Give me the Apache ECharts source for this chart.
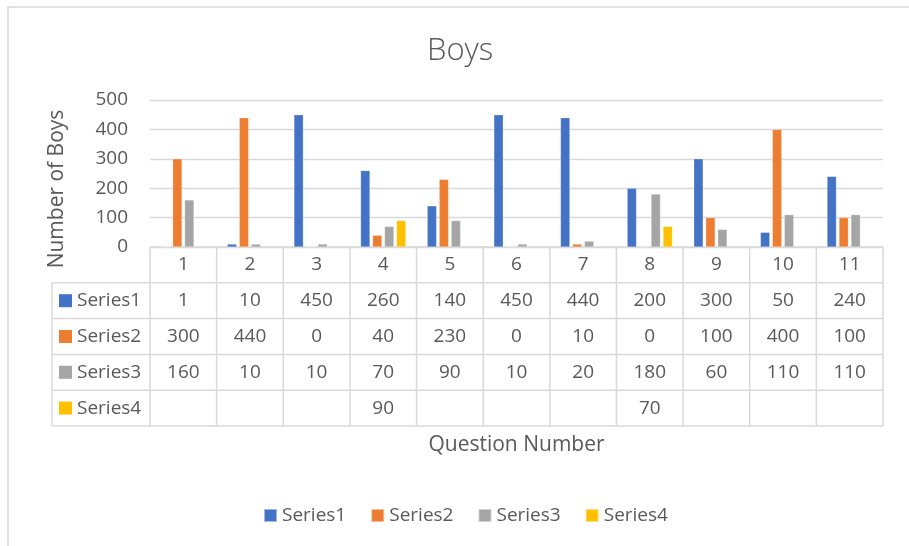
<!DOCTYPE html>
<html><head><meta charset="utf-8">
<script src="https://cdn.jsdelivr.net/npm/echarts@6/dist/echarts.min.js"></script>
<style>html,body{margin:0;padding:0;background:#fff}#c{width:909px;height:546px}</style>
</head><body><div id="c"></div>
<script>
const categories = ['1','2','3','4','5','6','7','8','9','10','11'];
const seriesNames = ['Series1','Series2','Series3','Series4'];
const series1 = [1,10,450,260,140,450,440,200,300,50,240];
const series2 = [300,440,0,40,230,0,10,0,100,400,100];
const series3 = [160,10,10,70,90,10,20,180,60,110,110];
const series4 = [null,null,null,90,null,null,null,70,null,null,null];
const yTicks = [0,100,200,300,400,500];
const colors = ['#4472C4','#ED7D31','#A5A5A5','#FFC000'];
const titleText = 'Boys';
const yTitle = 'Number of Boys';
const xTitle = 'Question Number';

const FONT = "'Open Sans', sans-serif";
const TXT = '#595959';
const LINE = '#D9D9D9';
const FS = 19;
const GRID = {left:150, right:26, top:100, bottom:299};
const ROW = 35.8;
const allSeries = [series1, series2, series3, series4];

const chart = echarts.init(document.getElementById('c'), null, {renderer:'canvas'});

const xAxes = [{
  type:'category', data:categories, gridIndex:0, position:'bottom',
  axisLine:{show:false}, axisTick:{show:false}, splitLine:{show:false},
  axisLabel:{interval:0, margin:ROW/2, verticalAlign:'middle', fontFamily:FONT, fontSize:FS, color:TXT}
}];
allSeries.forEach((s, i) => {
  xAxes.push({
    type:'category', data:s.map(v => v == null ? '' : String(v)), gridIndex:0, position:'bottom',
    offset:ROW*(i+1),
    axisLine:{show:false}, axisTick:{show:false}, splitLine:{show:false},
    axisLabel:{interval:0, margin:ROW/2, verticalAlign:'middle', fontFamily:FONT, fontSize:FS, color:TXT}
  });
});

const option = {
  animation:false,
  backgroundColor:'#fff',
  textStyle:{fontFamily:FONT},
  title:{text:titleText, left:422, top:31,
    textStyle:{fontFamily:FONT, fontSize:31, fontWeight:300, color:TXT}},
  legend:{data:seriesNames, left:258, top:501, icon:'rect', itemWidth:13, itemHeight:13, itemGap:24,
    textStyle:{fontFamily:FONT, fontSize:FS, color:TXT}},
  grid:GRID,
  xAxis:xAxes,
  yAxis:{type:'value', min:yTicks[0], max:yTicks[yTicks.length-1], interval:100,
    axisLine:{show:false}, axisTick:{show:false},
    splitLine:{lineStyle:{color:LINE, width:1.3}},
    axisLabel:{margin:22, fontFamily:FONT, fontSize:FS, color:TXT}},
  series:allSeries.map((s, i) => ({
    name:seriesNames[i], type:'bar', data:s, xAxisIndex:0,
    barGap:'27%', barCategoryGap:'32%',
    itemStyle:{color:colors[i], borderColor:'rgba(255,255,255,0.5)', borderWidth:0.5}
  }))
};
chart.setOption(option);

// Table lines and row headers
const c0 = chart.convertToPixel({xAxisIndex:0}, 0);
const c1 = chart.convertToPixel({xAxisIndex:0}, 1);
const bw = c1 - c0;
const x0 = c0 - bw/2;
const xEnd = x0 + bw*categories.length;
const yTop = chart.convertToPixel({yAxisIndex:0}, 0);
const tableLeft = 52;
const yBottom = yTop + ROW*5;
const g = [];
const ls = {stroke:LINE, lineWidth:1.5};
g.push({type:'line', shape:{x1:x0, y1:yTop, x2:xEnd, y2:yTop}, style:ls});
for (let r = 1; r <= 5; r++) {
  const y = yTop + ROW*r;
  g.push({type:'line', shape:{x1:tableLeft, y1:y, x2:xEnd, y2:y}, style:ls});
}
for (let j = 0; j <= categories.length; j++) {
  const x = x0 + bw*j;
  g.push({type:'line', shape:{x1:x, y1:yTop, x2:x, y2:yBottom}, style:ls});
}
g.push({type:'line', shape:{x1:tableLeft, y1:yTop+ROW, x2:tableLeft, y2:yBottom}, style:ls});
seriesNames.forEach((n, i) => {
  const cy = yTop + ROW*(i+1) + ROW/2;
  g.push({type:'rect', shape:{x:59, y:cy-6.5, width:13, height:13}, style:{fill:colors[i]}});
  g.push({type:'text', x:77, y:cy, style:{text:n, fontFamily:FONT, fontSize:FS, fill:TXT, textAlign:'left', textVerticalAlign:'middle'}});
});
g.push({type:'text', x:57, y:189, rotation:Math.PI/2,
  style:{text:yTitle, fontFamily:FONT, fontSize:21, fill:TXT, textAlign:'center', textVerticalAlign:'middle'}});
g.push({type:'text', x:(x0+xEnd)/2, y:445,
  style:{text:xTitle, fontFamily:FONT, fontSize:21, fill:TXT, textAlign:'center', textVerticalAlign:'middle'}});
g.push({type:'rect', shape:{x:8, y:7, width:1000, height:1000}, style:{fill:null, stroke:LINE, lineWidth:1.5}, silent:true});
chart.setOption({graphic:g});
</script></body></html>
